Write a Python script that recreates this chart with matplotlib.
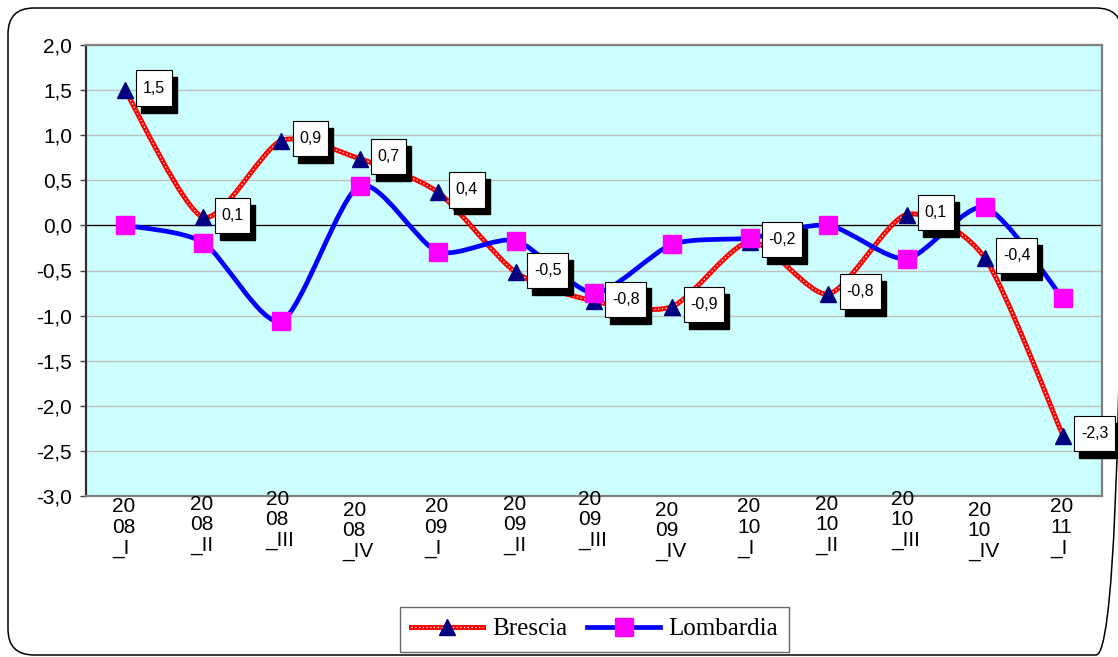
import matplotlib
matplotlib.use("Agg")
import matplotlib.pyplot as plt
from matplotlib.path import Path
from matplotlib.patches import PathPatch, FancyBboxPatch
from matplotlib.lines import Line2D
from matplotlib.legend_handler import HandlerTuple

# dati
periodi = ["2008_I", "2008_II", "2008_III", "2008_IV",
           "2009_I", "2009_II", "2009_III", "2009_IV",
           "2010_I", "2010_II", "2010_III", "2010_IV", "2011_I"]
brescia = [1.5, 0.09, 0.94, 0.74, 0.37, -0.52, -0.84, -0.9, -0.18, -0.76, 0.12, -0.36, -2.33]
lombardia = [0.0, -0.19, -1.06, 0.44, -0.29, -0.17, -0.75, -0.21, -0.14, 0.0, -0.37, 0.2, -0.81]
yticks = [2.0, 1.5, 1.0, 0.5, 0.0, -0.5, -1.0, -1.5, -2.0, -2.5, -3.0]

plt.rcParams['font.family'] = ['Liberation Sans', 'DejaVu Sans']

W, H = 1118, 657
fig = plt.figure(figsize=(W / 100, H / 100), dpi=100)

# cornice arrotondata
bg = fig.add_axes([0, 0, 1, 1])
bg.set_xlim(0, W)
bg.set_ylim(H, 0)
bg.axis('off')
bg.add_patch(FancyBboxPatch((8, 8), 1114, 647, boxstyle="round,pad=0,rounding_size=26",
                            fc='none', ec='black', lw=1.1))

ax = fig.add_axes([86 / W, 1 - 496 / H, (1102 - 86) / W, (496 - 45) / H])
ax.set_zorder(2)
ax.set_facecolor('#CCFFFF')


def curva(xs, ys, k=0.125):
    verts = [(xs[0], ys[0])]
    codes = [Path.MOVETO]
    n = len(xs)
    for i in range(n - 1):
        a = max(i - 1, 0)
        b = min(i + 2, n - 1)
        c1 = (xs[i] + (xs[i + 1] - xs[a]) * k, ys[i] + (ys[i + 1] - ys[a]) * k)
        c2 = (xs[i + 1] - (xs[b] - xs[i]) * k, ys[i + 1] - (ys[b] - ys[i]) * k)
        verts += [c1, c2, (xs[i + 1], ys[i + 1])]
        codes += [Path.CURVE4] * 3
    return Path(verts, codes)


def riquadro(x0, y0, width, height, mutation_size):
    # box con margine orizzontale piccolo e altezza fissa
    px = 0.42 * mutation_size
    cy = y0 + height / 2
    hh = 1.1 * mutation_size
    return Path([(x0 - px, cy - hh), (x0 + width + px, cy - hh), (x0 + width + px, cy + hh),
                 (x0 - px, cy + hh), (x0 - px, cy - hh)], closed=True)


x = list(range(len(periodi)))

p_b = curva(x, brescia)
ax.add_patch(PathPatch(p_b, fill=False, ec='#FF0000', lw=3.6, capstyle='round', joinstyle='round', zorder=3))
ax.add_patch(PathPatch(p_b, fill=False, ec='white', lw=0.9, linestyle=(0, (1, 2)), zorder=3.1))
p_l = curva(x, lombardia)
ax.add_patch(PathPatch(p_l, fill=False, ec='#0000FF', lw=3.4, capstyle='round', joinstyle='round', zorder=4))

ax.plot(x, brescia, linestyle='none', marker='^', ms=11.5, color='#000080', mec='#000080', zorder=5)
ax.plot(x, lombardia, linestyle='none', marker='s', ms=13.5, color='#FF00FF', mec='#FF00FF', zorder=6)

# etichette dati (ombra nera + riquadro bianco)
for i, v in enumerate(brescia):
    testo = f"{v:.1f}".replace('.', ',')
    ax.annotate(testo, (i, v), xytext=(16.6, -3.5), textcoords='offset points', ha='left', va='center',
                fontsize=11.5, color='black', zorder=7,
                bbox=dict(boxstyle=riquadro, fc='black', ec='black', lw=1))
    ax.annotate(testo, (i, v), xytext=(13, 1.5), textcoords='offset points', ha='left', va='center',
                fontsize=11.5, color='black', zorder=8,
                bbox=dict(boxstyle=riquadro, fc='white', ec='black', lw=0.8))

ax.set_xlim(-0.5, len(periodi) - 0.5)
ax.set_ylim(-3.0, 2.0)
ax.set_yticks(yticks)
ax.set_yticklabels([f"{t:.1f}".replace('.', ',') for t in yticks], fontsize=15)
ax.tick_params(axis='y', length=4, width=1, pad=6, color='#404040')
ax.set_xticks([])
ax.grid(axis='y', color='#C0C0C0', lw=1)
ax.set_axisbelow(True)
ax.axhline(0, color='black', lw=0.9, zorder=2)

for s in ['top', 'right', 'bottom']:
    ax.spines[s].set_color('#808080')
    ax.spines[s].set_linewidth(1.6)
ax.spines['left'].set_color('#303030')
ax.spines['left'].set_linewidth(1.6)

# etichette asse x su tre righe
scarti = {"I": -1.0, "II": 1.0, "III": 4.5, "IV": -3.5}
for i, p in enumerate(periodi):
    anno, trim = p.split('_')
    ax.annotate(f"{anno[:2]}\n{anno[2:]}\n_{trim}", (i, 0), xycoords=('data', 'axes fraction'),
                xytext=(-1, scarti[trim]), textcoords='offset points', ha='center', va='top',
                multialignment='left', fontsize=15, linespacing=1.1, annotation_clip=False)

# legenda
h_b = (Line2D([], [], color='#FF0000', lw=3.6),
       Line2D([], [], color='white', lw=0.9, linestyle=(0, (1, 2))),
       Line2D([], [], linestyle='none', marker='^', ms=11.5, color='#000080'))
h_l = Line2D([], [], color='#0000FF', lw=3.4, marker='s', ms=13.5, mfc='#FF00FF', mec='#FF00FF')
leg = fig.legend([h_b, h_l], ["Brescia", "Lombardia"], loc='center', bbox_to_anchor=(594.5 / W, 1 - 629 / H),
                 ncol=2, handler_map={tuple: HandlerTuple(ndivide=1)},
                 prop={'family': 'Liberation Serif', 'size': 18}, frameon=True, fancybox=False,
                 handlelength=2.9, handletextpad=0.35, columnspacing=0.8, borderpad=0.45,
                 borderaxespad=0)
leg.get_frame().set_edgecolor('#404040')
leg.get_frame().set_linewidth(1)

fig.savefig('out.png', dpi=100)
